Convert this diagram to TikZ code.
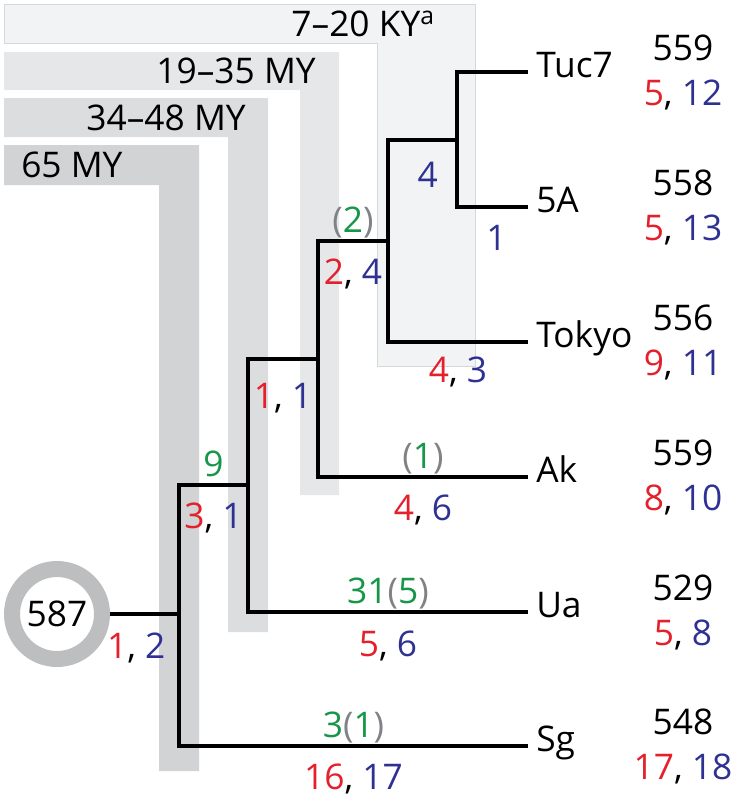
\documentclass[tikz,border=0pt]{standalone}
\usepackage{fontspec}
\setmainfont{Open Sans}
\definecolor{nred}{HTML}{E3202B}
\definecolor{nblue}{HTML}{2E3192}
\definecolor{ngreen}{HTML}{17964A}
\definecolor{nparen}{HTML}{808285}
\definecolor{bandA}{HTML}{D1D3D4}
\definecolor{bandB}{HTML}{DCDDDF}
\definecolor{bandC}{HTML}{E6E7E8}
\definecolor{bandD}{HTML}{F2F3F4}
\definecolor{bandedge}{HTML}{D6D7D9}
\definecolor{ringgray}{HTML}{BCBEC0}
\newcommand{\rb}[2]{\textcolor{nred}{#1}, \textcolor{nblue}{#2}}
\newcommand{\gp}[1]{\textcolor{nparen}{(}\textcolor{ngreen}{#1}\textcolor{nparen}{)}}

\begin{document}
\begin{tikzpicture}[x=0.75pt,y=-0.75pt,
  every node/.style={inner sep=0pt,font=\fontsize{26.5}{30}\selectfont,text height=18.9pt,text depth=0pt},
  branch/.style={line width=2.8pt},
  leaf/.style={anchor=west,inner xsep=6pt,text height=18.9pt,text depth=11.4pt}]
\useasboundingbox (0,0) rectangle (733,800);

\fill[bandA] (4,145) -| (199,771) -| (159,185) -- (4,185) -- cycle;
\fill[bandB] (4,98) -| (268,632) -| (228,137) -- (4,137) -- cycle;
\fill[bandC] (4,52) -| (339,495) -| (300,90) -- (4,90) -- cycle;
\filldraw[fill=bandD,draw=bandedge,line width=0.6pt] (4,4) -| (475,366) -| (377,43) -- (4,43) -- cycle;

\node[anchor=east] (kyr) at (435,23.5) {7–20 KY\textsuperscript{a}};
\node[anchor=east] (myb) at (316,71) {19–35 MY};
\node[anchor=east] (myc) at (246,117.5) {34–48 MY};
\node[anchor=west] (myd) at (21,165) {65 MY};

\node[circle,draw=ringgray,line width=12pt,fill=white,minimum size=67.5pt] (anc) at (57,614) {587};

\coordinate (nA) at (179,614);
\coordinate (nB) at (248,485);
\coordinate (nC) at (318,359);
\coordinate (nD) at (388,241);
\coordinate (nE) at (457,140);

\foreach \n/\t/\y/\tot/\r/\b in {tuc/Tuc7/72/559/5/12,fiveA/5A/207/558/5/13,tokyo/Tokyo/342/556/9/11,ak/Ak/477/559/8/10,ua/Ua/612/529/5/8,sg/Sg/746/548/17/18}{
\node[leaf] (\n) at (528,\y) {\t};
\node (\n-tot) at (683,\y-24) {\tot};
\node (\n-sub) at (683,\y+21) {\rb{\r}{\b}};
}

\draw[branch] (anc) -- (nA) node[pos=0.38,below=13pt] {\rb{1}{2}};
\draw[branch] (nA) |- (nB) node[pos=0.75,above=5pt,text=ngreen] {9} node[pos=0.75,below=12pt] {\rb{3}{1}};
\draw[branch] (nA) |- (sg.west) node[pos=0.75,above=5pt] {\textcolor{ngreen}{3}\gp{1}} node[pos=0.75,below=12pt] {\rb{16}{17}};
\draw[branch] (nB) |- (nC) node[pos=0.75,below=17pt] {\rb{1}{1}};
\draw[branch] (nB) |- (ua.west) node[pos=0.75,above=5pt] {\textcolor{ngreen}{31}\gp{5}} node[pos=0.75,below=13pt] {\rb{5}{6}};
\draw[branch] (nC) |- (nD) node[pos=0.75,above=5pt] {\gp{2}} node[pos=0.75,below=12pt] {\rb{2}{4}};
\draw[branch] (nC) |- (ak.west) node[pos=0.75,above=5pt] {\gp{1}} node[pos=0.75,below=12pt] {\rb{4}{6}};
\draw[branch] (nD) |- (nE) node[pos=0.75,below=15pt,xshift=4pt,text=nblue] {4};
\draw[branch] (nD) |- (tokyo.west) node[pos=0.75,below=10pt] {\rb{4}{3}};
\draw[branch] (nE) |- (tuc.west);
\draw[branch] (nE) |- (fiveA.west) node[pos=0.75,below=12pt,xshift=3pt,text=nblue] {1};

\end{tikzpicture}
\end{document}
